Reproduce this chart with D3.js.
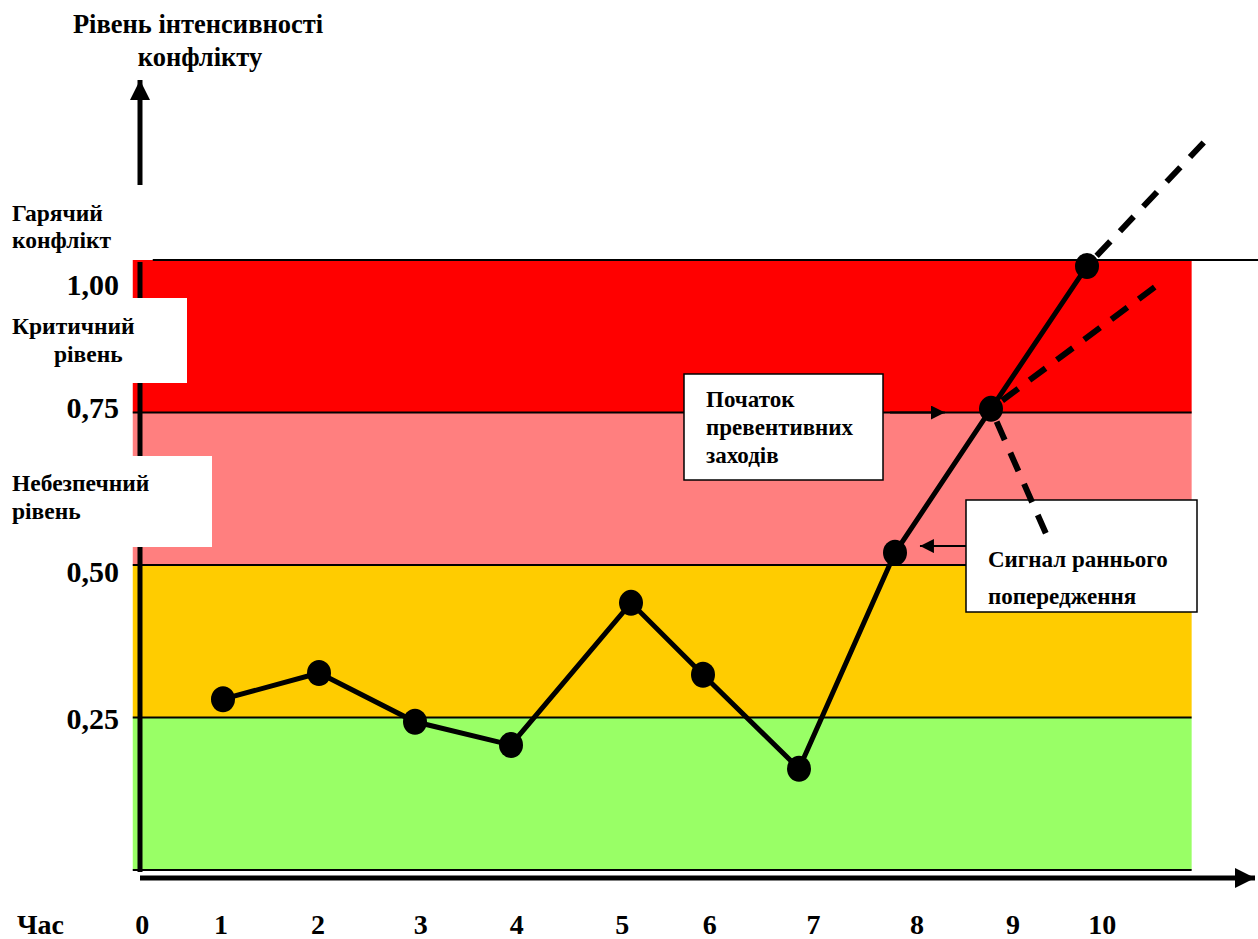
<!DOCTYPE html>
<html>
<head>
<meta charset="utf-8">
<script src="https://cdn.jsdelivr.net/npm/d3@7"></script>
<style>
  html, body { margin: 0; padding: 0; background: #fff; }
  svg { display: block; }
  text { font-family: "Liberation Serif", "DejaVu Serif", serif; font-weight: bold; fill: #000; }
</style>
</head>
<body>
<svg id="chart" width="1258" height="939"></svg>
<script>
// ---------- data ----------
const timeX      = [1, 2, 3, 4, 5.25, 6, 7, 8, 9, 10];
const intensity  = [0.28, 0.323, 0.243, 0.205, 0.438, 0.32, 0.166, 0.52, 0.756, 0.99];

const bandFrom   = [0, 0.25, 0.5, 0.75];
const bandTo     = [0.25, 0.5, 0.75, 1.0];
const bandColors = ["#99FF66", "#FFCC00", "#FF7F7F", "#FF0000"];
const bandXExtent = [0.06, 11.09];

const yTickValues = [1.0, 0.75, 0.5, 0.25];
const yTickLabels = ["1,00", "0,75", "0,50", "0,25"];

const xTickLabels = ["0", "1", "2", "3", "4", "5", "6", "7", "8", "9", "10"];
const xTickAt     = [0.16, 0.98, 1.99, 3.06, 4.06, 5.16, 6.07, 7.15, 8.23, 9.23, 10.16];

// forecast (dashed) lines: [fromIndex, toX, toY]
const forecastFrom = [9, 8, 8];
const forecastToX  = [11.26, 10.76, 9.61];
const forecastToY  = [1.20, 0.962, 0.538];

const levelNames = [["Гарячий", "конфлікт"], ["Критичний", "рівень"], ["Небезпечний", "рівень"]];
const titleLines = ["Рівень інтенсивності", "конфлікту"];
const note1Lines = ["Початок", "превентивних", "заходів"];
const note2Lines = ["Сигнал раннього", "попередження"];
const xAxisName  = "Час";

// ---------- scales ----------
const svg = d3.select("#chart");
const x = d3.scaleLinear().domain([0, 10]).range([127, 1087]);
const y = d3.scaleLinear().domain([0, 1]).range([870, 260]);

const defs = svg.append("defs");
defs.append("marker").attr("id", "ah").attr("viewBox", "0 0 10 10")
  .attr("refX", 10).attr("refY", 5).attr("markerWidth", 4).attr("markerHeight", 4)
  .attr("markerUnits", "strokeWidth").attr("orient", "auto")
  .append("path").attr("d", "M0,0 L10,5 L0,10 Z").attr("fill", "#000");
defs.append("marker").attr("id", "ahs").attr("viewBox", "0 0 10 10")
  .attr("refX", 10).attr("refY", 5).attr("markerWidth", 7).attr("markerHeight", 7)
  .attr("markerUnits", "strokeWidth").attr("orient", "auto")
  .append("path").attr("d", "M0,0 L10,5 L0,10 Z").attr("fill", "#000");

// ---------- bands ----------
const bands = bandFrom.map((f, i) => ({ from: f, to: bandTo[i], color: bandColors[i] }));
svg.append("g").selectAll("rect").data(bands).join("rect")
  .attr("x", x(bandXExtent[0]))
  .attr("width", x(bandXExtent[1]) - x(bandXExtent[0]))
  .attr("y", d => y(d.to))
  .attr("height", d => y(d.from) - y(d.to))
  .attr("fill", d => d.color);

// band boundary lines
svg.append("g").selectAll("line").data([0, 0.25, 0.5, 0.75]).join("line")
  .attr("x1", x(bandXExtent[0])).attr("x2", x(bandXExtent[1]))
  .attr("y1", d => y(d)).attr("y2", d => y(d))
  .attr("stroke", "#000").attr("stroke-width", 2);
// top (hot conflict) line extending to the right
svg.append("line")
  .attr("x1", x(bandXExtent[0]) + 20).attr("x2", 1258)
  .attr("y1", y(1)).attr("y2", y(1))
  .attr("stroke", "#000").attr("stroke-width", 2);

// vertical axis inside the chart
svg.append("line").attr("x1", 140).attr("x2", 140)
  .attr("y1", y(1) + 2).attr("y2", y(0) + 2)
  .attr("stroke", "#000").attr("stroke-width", 5);

// upper arrow of the vertical axis
svg.append("line").attr("x1", 140).attr("x2", 140)
  .attr("y1", 185).attr("y2", 80)
  .attr("stroke", "#000").attr("stroke-width", 5).attr("marker-end", "url(#ah)");

// horizontal axis arrow
svg.append("line").attr("x1", 140).attr("x2", 1255)
  .attr("y1", 878).attr("y2", 878)
  .attr("stroke", "#000").attr("stroke-width", 5).attr("marker-end", "url(#ah)");

// ---------- white label boxes on the left ----------
svg.append("rect").attr("x", 0).attr("y", 298).attr("width", 187).attr("height", 85).attr("fill", "#fff");
svg.append("rect").attr("x", 0).attr("y", 456).attr("width", 212).attr("height", 91).attr("fill", "#fff");

const lvl = svg.append("g").style("font-size", "23.5px");
lvl.append("text").attr("x", 12).attr("y", 221).text(levelNames[0][0]);
lvl.append("text").attr("x", 12).attr("y", 248).text(levelNames[0][1]);
lvl.append("text").attr("x", 12).attr("y", 334).text(levelNames[1][0]);
lvl.append("text").attr("x", 54).attr("y", 362).text(levelNames[1][1]);
lvl.append("text").attr("x", 12).attr("y", 491).text(levelNames[2][0]);
lvl.append("text").attr("x", 12).attr("y", 519).text(levelNames[2][1]);

// title
const title = svg.append("g").style("font-size", "26.5px").attr("text-anchor", "middle");
title.append("text").attr("x", 198).attr("y", 33).text(titleLines[0]);
title.append("text").attr("x", 200).attr("y", 66).text(titleLines[1]);

// y tick labels
const yNudge = [25, -5, 7, 1];
svg.append("g").selectAll("text").data(yTickValues).join("text")
  .attr("x", 119).attr("text-anchor", "end")
  .attr("y", (d, i) => y(d) + yNudge[i] + 10)
  .style("font-size", "30px")
  .text((d, i) => yTickLabels[i]);

// x tick labels
svg.append("g").selectAll("text").data(xTickAt).join("text")
  .attr("x", d => x(d)).attr("text-anchor", "middle")
  .attr("y", 934)
  .style("font-size", "28px")
  .text((d, i) => xTickLabels[i]);
svg.append("text").attr("x", 17).attr("y", 934).style("font-size", "28px").text(xAxisName);

// ---------- annotation boxes ----------
svg.append("rect").attr("x", 684).attr("y", 374).attr("width", 199).attr("height", 106)
  .attr("fill", "#fff").attr("stroke", "#000").attr("stroke-width", 1.5);
const n1 = svg.append("g").style("font-size", "23px");
note1Lines.forEach((t, i) => n1.append("text").attr("x", 706).attr("y", 407 + i * 28).text(t));

svg.append("rect").attr("x", 966).attr("y", 500).attr("width", 231).attr("height", 112)
  .attr("fill", "#fff").attr("stroke", "#000").attr("stroke-width", 1.5);
const n2 = svg.append("g").style("font-size", "23px");
note2Lines.forEach((t, i) => n2.append("text").attr("x", 988).attr("y", 567 + i * 37).text(t));

// annotation arrows
svg.append("line").attr("x1", 890).attr("x2", x(8.52)).attr("y1", y(0.75)).attr("y2", y(0.75))
  .attr("stroke", "#000").attr("stroke-width", 2).attr("marker-end", "url(#ahs)");
svg.append("line").attr("x1", 966).attr("x2", x(8.26)).attr("y1", y(0.531)).attr("y2", y(0.531))
  .attr("stroke", "#000").attr("stroke-width", 2).attr("marker-end", "url(#ahs)");

// ---------- forecast dashed lines ----------
svg.append("g").selectAll("line").data(forecastFrom).join("line")
  .attr("x1", d => x(timeX[d])).attr("y1", d => y(intensity[d]))
  .attr("x2", (d, i) => x(forecastToX[i])).attr("y2", (d, i) => y(forecastToY[i]))
  .attr("stroke", "#000").attr("stroke-width", 6)
  .attr("stroke-dasharray", "20,14").attr("stroke-dashoffset", -14);

// ---------- main series ----------
const pts = timeX.map((t, i) => ({ t, v: intensity[i] }));
svg.append("path").datum(pts)
  .attr("d", d3.line().x(d => x(d.t)).y(d => y(d.v)))
  .attr("fill", "none").attr("stroke", "#000").attr("stroke-width", 5);

svg.append("g").selectAll("ellipse").data(pts).join("ellipse")
  .attr("cx", d => x(d.t)).attr("cy", d => y(d.v))
  .attr("rx", 12).attr("ry", 13).attr("fill", "#000");
</script>
</body>
</html>
